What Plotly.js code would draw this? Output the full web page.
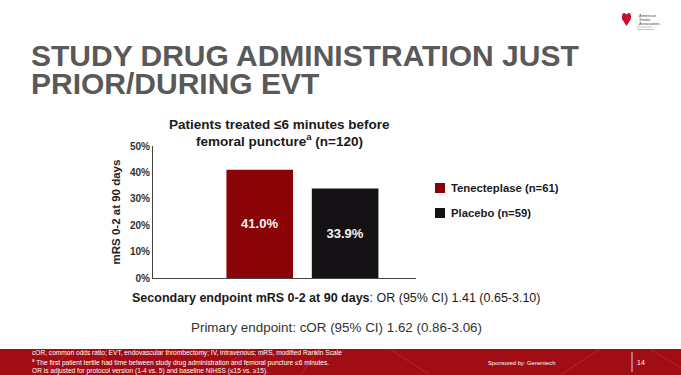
<!DOCTYPE html>
<html><head><meta charset="utf-8">
<script src="https://cdn.plot.ly/plotly-3.0.1.min.js"></script>
<style>html,body{margin:0;padding:0;background:#fff;}#c{width:681px;height:375px;}</style>
</head><body><div id="c"></div>
<script>
var categories = ["Tenecteplase", "Placebo"];
var seriesNames = ["Tenecteplase (n=61)", "Placebo (n=59)"];
var values = [41.0, 33.9];
var barColors = ["#8a0306", "#141215"];
var yTicks = [0, 10, 20, 30, 40, 50];
var yTickLabels = ["0%", "10%", "20%", "30%", "40%", "50%"];

var W = 681, H = 375;
function px(x){ return x / W; }
function py(y){ return 1 - y / H; }

var traces = categories.map(function(c, i){
  return {
    type: "bar", x: [c], y: [values[i]], name: seriesNames[i],
    showlegend: false,
    marker: {color: barColors[i]}, width: 0.78,
    texttemplate: "%{y:.1f}%", textposition: "inside", insidetextanchor: "middle",
    textfont: {family: "Liberation Sans, Arial, sans-serif", size: 13, color: "#f2f2f2", weight: "bold"},
    hoverinfo: "skip"
  };
});

var F = "Liberation Sans, Arial, sans-serif";
var ann = [];
function T(x, y, text, size, color, opts){
  var a = Object.assign({xref: "paper", yref: "paper", x: px(x), y: py(y), text: text, showarrow: false,
    xanchor: "left", yanchor: "middle", font: {family: F, size: size, color: color}}, opts || {});
  ann.push(a);
}
// slide title
T(29, 56, "<b>STUDY DRUG ADMINISTRATION JUST</b>", 30, "#595959");
T(29, 84, "<b>PRIOR/DURING EVT</b>", 30, "#595959");
// chart title
T(279, 124, "<b>Patients treated ≤6 minutes before</b>", 13.5, "#1a1a1a", {xanchor: "center"});
T(279, 140, "<b>femoral puncture<sup>a</sup> (n=120)</b>", 13.5, "#1a1a1a", {xanchor: "center"});
// endpoints
T(336, 298, "<b>Secondary endpoint mRS 0-2 at 90 days</b>: OR (95% CI) 1.41 (0.65-3.10)", 12.5, "#1a1a1a", {xanchor: "center"});
T(336, 327, "Primary endpoint: cOR (95% CI) 1.62 (0.86-3.06)", 13.4, "#333333", {xanchor: "center"});
// footer
T(30, 353, "cOR, common odds ratio; EVT, endovascular thrombectomy; IV, intravenous; mRS, modified Rankin Scale", 6.6, "#ffffff");
T(30, 362, "<sup>a</sup> The first patient tertile had time between study drug administration and femoral puncture ≤6 minutes.", 6.6, "#ffffff");
T(30, 371, "OR is adjusted for protocol version (1-4 vs. 5) and baseline NIHSS (≤15 vs. ≥15).", 6.6, "#ffffff");
T(486, 363, "Sponsored by: Genentech", 5.8, "#ffffff");
T(641, 362, "14", 7, "#ffffff", {xanchor: "center"});
// logo text
T(637, 16, "American", 4, "#444"); T(637, 19.5, "Stroke", 4, "#444"); T(637, 23, "Association.", 4, "#444");

var shapes = [
  {type: "rect", xref: "paper", yref: "paper", x0: 0, x1: 1, y0: py(375), y1: py(349), fillcolor: "#a00d15", line: {width: 0}, layer: "below"},
  {type: "line", xref: "paper", yref: "paper", x0: px(632), x1: px(632), y0: py(372), y1: py(352), line: {color: "#ffffff", width: 0.8}},
  // logo heart
  {type: "path", xref: "paper", yref: "paper",
   path: "M " + px(626.5) + "," + py(26) + " L " + px(622) + "," + py(19) + " Q " + px(621.5) + "," + py(12) + " " + px(624.5) + "," + py(13) +
         " L " + px(626.5) + "," + py(14.5) + " L " + px(628.5) + "," + py(13) + " Q " + px(631.5) + "," + py(12) + " " + px(631) + "," + py(19) + " Z",
   fillcolor: "#c8102e", line: {width: 0}},
  {type: "line", xref: "paper", yref: "paper", x0: px(637), x1: px(652), y0: py(27), y1: py(27), line: {color: "#999", width: 0.6}},
  {type: "line", xref: "paper", yref: "paper", x0: px(637), x1: px(654), y0: py(29.5), y1: py(29.5), line: {color: "#999", width: 0.6}}
];
// manual legend from the series arrays
var legTop = 188, legGap = 25;
seriesNames.forEach(function(n, i){
  var yc = legTop + i * legGap;
  shapes.push({type: "rect", xref: "paper", yref: "paper", x0: px(435), x1: px(445), y0: py(yc + 5), y1: py(yc - 5),
               fillcolor: barColors[i], line: {width: 0}});
  T(449, yc, "<b>" + n + "</b>", 11.3, "#1a1a1a");
});
// subtle web texture in footer
var tex = [[40,375,75,349],[95,349,120,375],[210,375,250,349],[235,375,270,349],[390,349,430,375],[560,375,600,349],[650,349,681,368],[300,375,320,349]];
tex.forEach(function(t){
  shapes.push({type: "line", xref: "paper", yref: "paper", x0: px(t[0]), y0: py(t[1]), x1: px(t[2]), y1: py(t[3]), line: {color: "rgba(230,60,60,0.35)", width: 1.2}, layer: "below"});
});

var layout = {
  width: W, height: H, margin: {l: 0, r: 0, t: 0, b: 0},
  paper_bgcolor: "#ffffff", plot_bgcolor: "#ffffff",
  barmode: "overlay", showlegend: false,
  font: {family: F},
  xaxis: {domain: [px(153), px(416)], type: "category", range: [-1.25, 1.83], showticklabels: false,
          showline: true, linecolor: "#444", linewidth: 1, ticks: "", showgrid: false, zeroline: false, fixedrange: true},
  yaxis: {domain: [py(278), py(146)], range: [0, 50], tickvals: yTicks, ticktext: yTickLabels,
          showline: true, linecolor: "#444", linewidth: 1, ticks: "", showgrid: false, zeroline: false,
          tickfont: {family: F, size: 10, color: "#333", weight: "bold"},
          title: {text: "mRS 0-2 at 90 days", font: {family: F, size: 11.5, color: "#222", weight: "bold"}, standoff: 6}},
  annotations: ann, shapes: shapes
};
Plotly.newPlot("c", traces, layout, {staticPlot: true, displayModeBar: false});
</script></body></html>
